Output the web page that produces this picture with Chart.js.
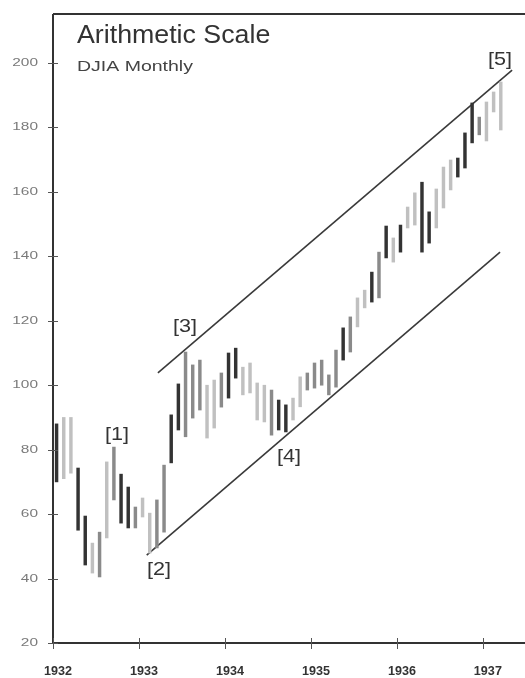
<!DOCTYPE html>
<html>
<head>
<meta charset="utf-8">
<script src="https://cdn.jsdelivr.net/npm/chart.js@4/dist/chart.umd.min.js"></script>
<style>
  html, body { margin: 0; padding: 0; background: #fff; }
  #wrap { width: 525px; height: 678px; }
</style>
</head>
<body>
<div id="wrap"><canvas id="chart"></canvas></div>
<script>
// monthly DJIA bars, Jan 1932 .. Mar 1937
const startYear = 1932;
const highs = [88, 90, 90, 74.3, 59.4, 51, 54.4, 76.2, 80.8, 72.4, 68.4, 62.2,
    65, 60.3, 64.4, 75.2, 90.8, 100.4, 110.3, 106.3, 107.8, 100, 101.6, 103.8,
    110, 111.5, 105.6, 106.9, 100.7, 100, 98.5, 95.4, 93.9, 96, 102.6, 103.8,
    106.9, 107.8, 103.2, 110.9, 117.8, 121.2, 127.1, 129.5, 135.1, 141.3, 149.4, 145.7,
    149.7, 155.3, 159.7, 163, 153.8, 160.9, 167.7, 169.9, 170.5, 178.3, 187.6, 183.2,
    187.9, 191, 194.1];
const lows = [70, 71, 72.7, 55, 44.2, 41.7, 40.5, 52.6, 64.4, 57.2, 55.7, 55.7,
    59.1, 47.9, 49.5, 54.4, 75.9, 86.1, 84, 89.8, 92.3, 83.6, 86.7, 93.2,
    96, 102.2, 97, 97.6, 89.2, 88.6, 84.5, 86.1, 85.5, 89.2, 93.3, 98.5,
    99.1, 100, 97, 99.4, 107.8, 110.3, 118.1, 124, 125.8, 127.1, 139.5, 138.2,
    141.3, 148.8, 149.7, 141.3, 144.1, 148.8, 155, 160.6, 164.6, 167.4, 175.2, 177.7,
    175.8, 184.8, 179.2];
// d = dark, g = grey, l = light
const shades = ['d','l','l','d','d','l','g','l','g','d','d','g',
    'l','l','g','g','d','d','g','g','g','l','l','g',
    'd','d','l','l','l','l','g','d','d','l','l','g',
    'g','g','g','g','d','g','l','l','d','g','d','l',
    'd','l','l','d','d','l','l','l','d','d','d','g',
    'l','l','l'];
const yearTicks = [1932, 1933, 1934, 1935, 1936, 1937];
const valueTicks = [20, 40, 60, 80, 100, 120, 140, 160, 180, 200];
const upperChannel = [{x: 1933.22, y: 103.8}, {x: 1937.34, y: 197.8}];
const lowerChannel = [{x: 1933.09, y: 47.3}, {x: 1937.2, y: 141.3}];
const waveLabels = [
    {text: '[1]', x: 1932.744, y: 84.5},
    {text: '[2]', x: 1933.233, y: 42.6},
    {text: '[3]', x: 1933.535, y: 118.1},
    {text: '[4]', x: 1934.744, y: 77.7},
    {text: '[5]', x: 1937.198, y: 200.9}
];

const shadeColor = {d: '#333333', g: '#8a8a8a', l: '#c0c0c0'};
const barData = highs.map(function(h, i) {
    return {x: startYear + (i + 0.5) / 12, y: [lows[i], h]};
});
const FONT = '"Liberation Sans", Arial, sans-serif';

// text in the reference is stretched sideways, so scale x only
function wideText(c, text, x, y, size, sx, align, color, weight) {
    c.save();
    c.translate(x, y);
    c.scale(sx, 1);
    c.font = (weight || 'normal') + ' ' + size + 'px ' + FONT;
    c.fillStyle = color;
    c.textAlign = align;
    c.fillText(text, 0, 0);
    c.restore();
}

const frame = {
    id: 'frame',
    afterDraw(chart) {
        const c = chart.ctx, a = chart.chartArea;
        const xs = chart.scales.x, ys = chart.scales.y;
        c.save();
        c.strokeStyle = '#333';
        c.lineWidth = 2;
        c.beginPath();
        c.moveTo(a.left, a.top); c.lineTo(a.right, a.top);
        c.moveTo(a.left, a.top); c.lineTo(a.left, a.bottom);
        c.moveTo(a.left, a.bottom); c.lineTo(a.right, a.bottom);
        c.stroke();
        c.lineWidth = 1;
        c.strokeStyle = '#555';
        c.beginPath();
        valueTicks.forEach(function(v) {
            const py = Math.round(ys.getPixelForValue(v)) + 0.5;
            c.moveTo(a.left - 5, py); c.lineTo(a.left + 5, py);
        });
        yearTicks.forEach(function(v) {
            const px = Math.round(xs.getPixelForValue(v)) + 0.5;
            c.moveTo(px, a.bottom - 5); c.lineTo(px, a.bottom + 6);
        });
        c.stroke();
        c.textBaseline = 'middle';
        valueTicks.forEach(function(v) {
            wideText(c, String(v), 38, ys.getPixelForValue(v), 11, 1.4, 'right', '#7a7a7a');
        });
        yearTicks.forEach(function(v) {
            wideText(c, String(v), xs.getPixelForValue(v) + 5, a.bottom + 29, 12, 1.05, 'center', '#333', 'bold');
        });
        // title
        c.textBaseline = 'alphabetic';
        wideText(c, 'Arithmetic Scale', 77, 43, 25, 1.07, 'left', '#333');
        wideText(c, 'DJIA Monthly', 77, 71, 15, 1.3, 'left', '#444');
        // wave labels
        c.textBaseline = 'middle';
        waveLabels.forEach(function(w) {
            wideText(c, w.text, xs.getPixelForValue(w.x), ys.getPixelForValue(w.y), 18, 1.2, 'center', '#333');
        });
        c.restore();
    }
};

new Chart(document.getElementById('chart'), {
    type: 'bar',
    data: {
        datasets: [{
            type: 'bar',
            data: barData,
            backgroundColor: shades.map(function(s) { return shadeColor[s]; }),
            barThickness: 2.8,
            borderWidth: 0
        }, {
            type: 'line',
            data: upperChannel,
            borderColor: '#3a3a3a',
            borderWidth: 1.6,
            pointRadius: 0,
            fill: false
        }, {
            type: 'line',
            data: lowerChannel,
            borderColor: '#3a3a3a',
            borderWidth: 1.6,
            pointRadius: 0,
            fill: false
        }]
    },
    options: {
        responsive: true,
        maintainAspectRatio: false,
        animation: false,
        layout: {padding: {top: 14, right: 0, left: 0, bottom: 0}},
        plugins: {legend: {display: false}, tooltip: {enabled: false}},
        scales: {
            x: {
                type: 'linear',
                min: 1932,
                max: 1937.49,
                offset: false,
                grid: {display: false, drawTicks: false},
                border: {display: false},
                afterBuildTicks: function(s) { s.ticks = yearTicks.map(function(v) { return {value: v}; }); },
                afterFit: function(s) { s.height = 35; },
                ticks: {display: false}
            },
            y: {
                min: 20,
                max: 215.2,
                grid: {display: false, drawTicks: false},
                border: {display: false},
                afterBuildTicks: function(s) { s.ticks = valueTicks.map(function(v) { return {value: v}; }); },
                afterFit: function(s) { s.width = 53; },
                ticks: {display: false}
            }
        }
    },
    plugins: [frame]
});
</script>
</body>
</html>
